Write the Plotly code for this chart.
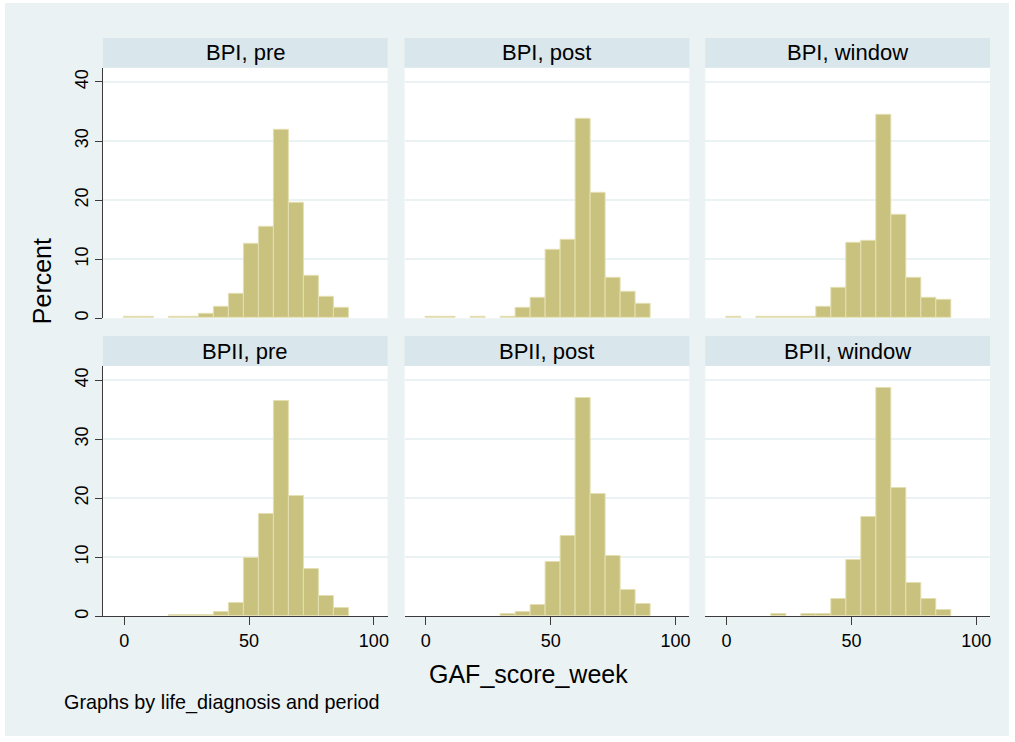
import plotly.graph_objects as go

# ---- data ----
bin_left = [0, 6, 12, 18, 24, 30, 36, 42, 48, 54, 60, 66, 72, 78, 84]
bin_width = 6
panel_titles = ["BPI, pre", "BPI, post", "BPI, window",
                "BPII, pre", "BPII, post", "BPII, window"]
bpi_pre = [0.17, 0.17, 0, 0.17, 0.3, 0.8, 1.9, 4.2, 12.6, 15.5, 31.9, 19.5, 7.2, 3.6, 1.7]
bpi_post = [0.17, 0.17, 0, 0.17, 0, 0.3, 1.75, 3.5, 11.5, 13.3, 33.8, 21.3, 6.8, 4.4, 2.5]
bpi_window = [0.17, 0, 0.15, 0.3, 0.15, 0.3, 2.0, 5.1, 12.7, 13.1, 34.4, 17.5, 6.8, 3.5, 3.1]
bpii_pre = [0, 0, 0, 0.17, 0.17, 0.3, 0.7, 2.3, 9.9, 17.3, 36.5, 20.4, 8.1, 3.4, 1.4]
bpii_post = [0, 0, 0, 0, 0, 0.45, 0.7, 1.9, 9.2, 13.6, 37.0, 20.8, 10.3, 4.4, 2.1]
bpii_window = [0, 0, 0, 0.45, 0, 0.45, 0.45, 2.9, 9.5, 16.9, 38.6, 21.7, 5.7, 2.9, 1.0]
x_ticks = [0, 50, 100]
y_ticks = [0, 10, 20, 30, 40]
x_title = "GAF_score_week"
y_title = "Percent"
note = "Graphs by life_diagnosis and period"

series = [bpi_pre, bpi_post, bpi_window, bpii_pre, bpii_post, bpii_window]

# ---- layout geometry (pixels) ----
W, H = 1015, 742
FONT = "Liberation Sans, Arial, sans-serif"
BG = "#EAF2F3"
STRIP = "#D9E6EB"
BAR = "#C9C27F"
BAR_LINE = "#E4DFB3"
AXC = "#3a3a3a"

col_px = [(103, 388), (405, 690), (706, 991)]
row_px = [(68, 319), (367, 618)]   # plot area top/bottom
strip_h = 30

def px2x(p):
    return p / W

def px2y(p):
    return 1 - p / H

fig = go.Figure()
shapes = [dict(type="rect", xref="paper", yref="paper",
               x0=px2x(5), x1=px2x(1010), y0=px2y(738), y1=px2y(3),
               fillcolor=BG, line=dict(width=0), layer="below")]
annotations = []

centers = [b + bin_width / 2 for b in bin_left]

for i, vals in enumerate(series):
    r, c = divmod(i, 3)
    n = i + 1
    xa = "x" if n == 1 else f"x{n}"
    ya = "y" if n == 1 else f"y{n}"
    fig.add_trace(go.Bar(x=centers, y=[v if v > 0 else None for v in vals],
                         width=bin_width, xaxis=xa, yaxis=ya,
                         marker=dict(color=BAR, line=dict(color=BAR_LINE, width=1)),
                         showlegend=False, hoverinfo="x+y"))
    x0p, x1p = col_px[c]
    y0p, y1p = row_px[r]
    bottom = (r == 1)
    left = (c == 0)
    xkey = "xaxis" if n == 1 else f"xaxis{n}"
    ykey = "yaxis" if n == 1 else f"yaxis{n}"
    fig.layout[xkey] = dict(domain=[px2x(x0p), px2x(x1p)], range=[-8.5, 105.5],
                            anchor=ya, tickvals=x_ticks,
                            showticklabels=bottom, ticks="outside" if bottom else "",
                            ticklen=8, tickcolor=AXC, tickwidth=1.2,
                            showline=bottom, linecolor=AXC, linewidth=1.2,
                            showgrid=False, zeroline=False,
                            tickfont=dict(family=FONT, size=18, color="black"),
                            fixedrange=True)
    fig.layout[ykey] = dict(domain=[px2y(y1p), px2y(y0p)], range=[0, 42.4],
                            anchor=xa, tickvals=y_ticks,
                            showticklabels=left, ticks="outside" if left else "",
                            ticklen=7, tickcolor=AXC, tickwidth=1.2, tickangle=-90,
                            showline=left, linecolor=AXC, linewidth=1.2,
                            showgrid=True, gridcolor=BG, gridwidth=1.5,
                            zeroline=False,
                            tickfont=dict(family=FONT, size=18, color="black"),
                            fixedrange=True)
    # plot area white background
    shapes.append(dict(type="rect", xref="paper", yref="paper",
                       x0=px2x(x0p), x1=px2x(x1p), y0=px2y(y1p), y1=px2y(y0p),
                       fillcolor="white", line=dict(width=0), layer="below"))
    # strip
    shapes.append(dict(type="rect", xref="paper", yref="paper",
                       x0=px2x(x0p), x1=px2x(x1p), y0=px2y(y0p), y1=px2y(y0p - strip_h),
                       fillcolor=STRIP, line=dict(width=0), layer="below"))
    annotations.append(dict(text=panel_titles[i], xref="paper", yref="paper",
                            x=px2x((x0p + x1p) / 2), y=px2y(y0p - strip_h / 2),
                            xanchor="center", yanchor="middle", showarrow=False,
                            font=dict(family=FONT, size=22, color="black")))

annotations.append(dict(text=x_title, xref="paper", yref="paper",
                        x=px2x(529), y=px2y(676), xanchor="center", yanchor="middle",
                        showarrow=False, font=dict(family=FONT, size=25, color="black")))
annotations.append(dict(text=y_title, xref="paper", yref="paper",
                        x=px2x(42), y=px2y(282), xanchor="center", yanchor="middle",
                        textangle=-90, showarrow=False,
                        font=dict(family=FONT, size=25, color="black")))
annotations.append(dict(text=note, xref="paper", yref="paper",
                        x=px2x(62), y=px2y(704), xanchor="left", yanchor="middle",
                        showarrow=False, font=dict(family=FONT, size=19.8, color="black")))

fig.update_layout(width=W, height=H, margin=dict(l=0, r=0, t=0, b=0),
                  paper_bgcolor="white", plot_bgcolor="rgba(0,0,0,0)",
                  shapes=shapes, annotations=annotations, bargap=0)

fig.write_html("out.html", config={"displayModeBar": False},
               post_script="document.body.style.margin='0px';document.body.style.overflow='hidden';")
